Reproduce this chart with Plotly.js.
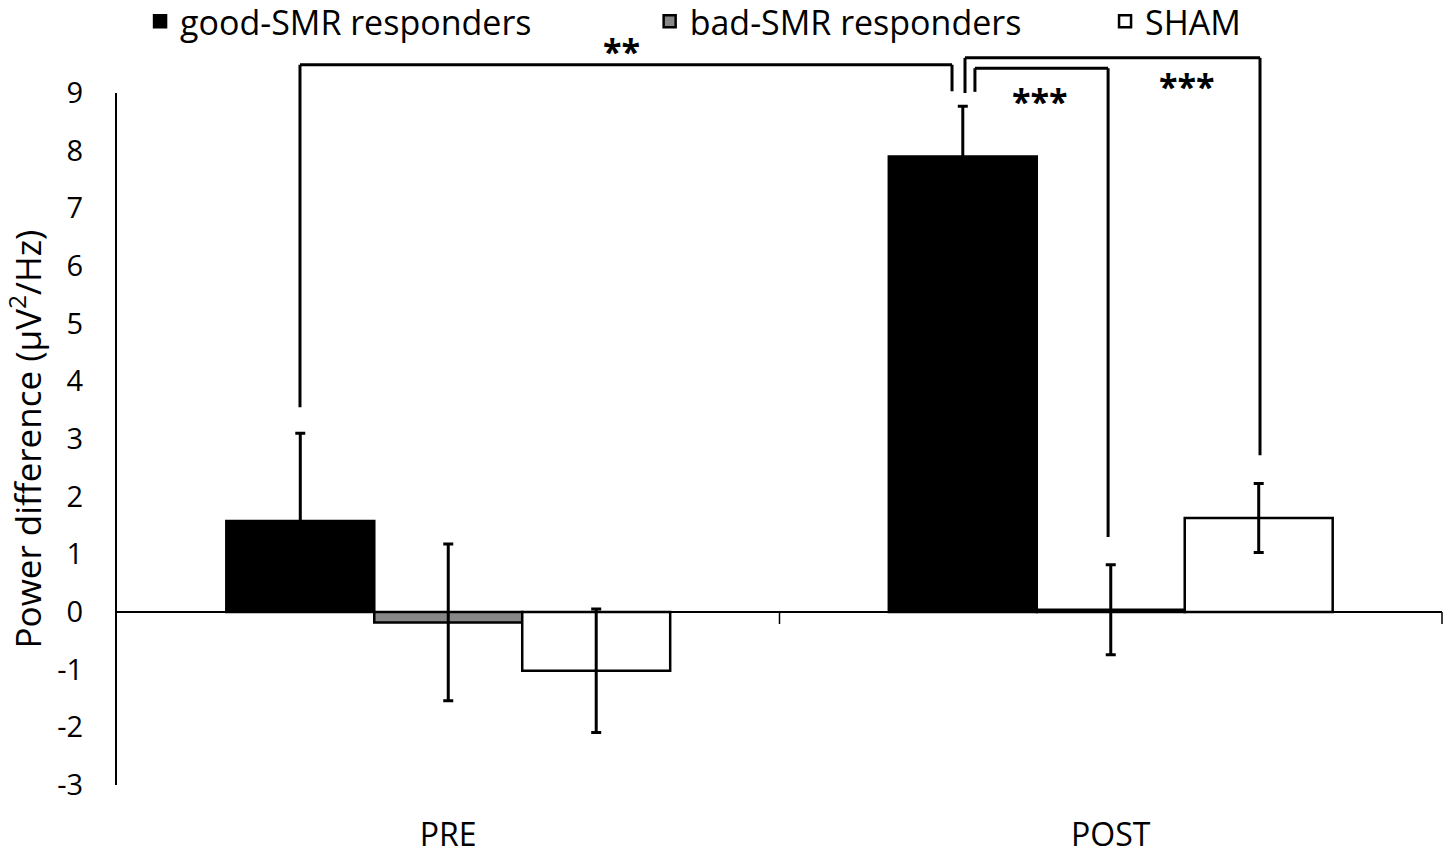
<!DOCTYPE html>
<html>
<head>
<meta charset="utf-8">
<script src="https://cdn.plot.ly/plotly-3.0.1.min.js"></script>
<style>html,body{margin:0;padding:0;background:#fff;}#chart{width:1450px;height:857px;}</style>
</head>
<body>
<div id="chart"></div>
<script>
// ---- data ----
const categories = ['PRE', 'POST'];
const seriesNames = ['good-SMR responders', 'bad-SMR responders', 'SHAM'];
const goodValues = [1.58, 7.90];
const goodErrors = [1.52, 0.87];
const badValues = [-0.18, 0.04];
const badErrors = [1.36, 0.78];
const shamValues = [-1.02, 1.63];
const shamErrors = [1.07, 0.60];
const yTickValues = [-3, -2, -1, 0, 1, 2, 3, 4, 5, 6, 7, 8, 9];
const yTickLabels = ['-3', '-2', '-1', '0', '1', '2', '3', '4', '5', '6', '7', '8', '9'];
const significanceLabels = ['**', '***', '***'];

// ---- layout helpers ----
const Y_RANGE = [-3, 9];
const X_RANGE = [-0.5, 1.5];
const FONT = '"Open Sans", "Noto Sans", sans-serif';
const px = xd => (xd - X_RANGE[0]) / (X_RANGE[1] - X_RANGE[0]);
const py = yd => (yd - Y_RANGE[0]) / (Y_RANGE[1] - Y_RANGE[0]);

function barTrace(name, y, err, color, legendId) {
  return {
    type: 'bar', name: name, x: categories, y: y,
    marker: {color: color, line: {color: '#000', width: 2.5}},
    error_y: {type: 'data', array: err, visible: true, color: '#000', thickness: 3, width: 5},
    legend: legendId
  };
}

const traces = [
  barTrace(seriesNames[0], goodValues, goodErrors, '#000000', 'legend'),
  barTrace(seriesNames[1], badValues, badErrors, '#878787', 'legend2'),
  barTrace(seriesNames[2], shamValues, shamErrors, '#ffffff', 'legend3')
];

// bracket geometry (axis units: category index, y value)
const brackets = [
  {xl: -0.2238, xr: 0.7604, top: 9.49, yl: 3.55, yr: 9.03},
  {xl: 0.780, xr: 1.2253, top: 9.61, yl: 9.00, yr: 2.72},
  {xl: 0.795, xr: 0.996, top: 9.43, yl: 9.02, yr: 1.30}
];
const labelPos = [
  {x: 0.262, y: 9.73},
  {x: 0.893, y: 8.86},
  {x: 1.115, y: 9.12}
];

const lineStyle = {color: '#000', width: 3};
const shapes = [];
brackets.forEach(b => {
  shapes.push({type: 'line', xref: 'paper', yref: 'paper', x0: px(b.xl), x1: px(b.xl), y0: py(b.yl), y1: py(b.top), line: lineStyle});
  shapes.push({type: 'line', xref: 'paper', yref: 'paper', x0: px(b.xl), x1: px(b.xr), y0: py(b.top), y1: py(b.top), line: lineStyle});
  shapes.push({type: 'line', xref: 'paper', yref: 'paper', x0: px(b.xr), x1: px(b.xr), y0: py(b.top), y1: py(b.yr), line: lineStyle});
});
// category boundary ticks on the zero line
[0.5, 1.5].forEach(xb => {
  shapes.push({type: 'line', xref: 'paper', yref: 'paper', x0: px(xb), x1: px(xb), y0: py(0), y1: py(0) - 12 / 692, line: {color: '#000', width: 1.5}});
});

const annotations = significanceLabels.map((t, i) => ({
  text: '<b>' + t + '</b>', xref: 'paper', yref: 'paper', x: px(labelPos[i].x), y: py(labelPos[i].y),
  xanchor: 'center', yanchor: 'middle', showarrow: false,
  font: {family: FONT, size: 34, color: '#000'}
}));

const legendBase = {orientation: 'h', yanchor: 'middle', xanchor: 'left', y: 1.103,
  bgcolor: 'rgba(0,0,0,0)', font: {family: FONT, size: 34, color: '#000'}};

const layout = {
  width: 1450, height: 857,
  margin: {l: 117, r: 8, t: 93, b: 72, autoexpand: false},
  paper_bgcolor: '#fff', plot_bgcolor: '#fff',
  font: {family: FONT, color: '#000'},
  barmode: 'group', bargap: 0.33, bargroupgap: 0,
  xaxis: {
    type: 'category', range: X_RANGE, showline: false, showgrid: false, zeroline: false,
    ticks: 'outside', ticklen: 22, tickcolor: 'rgba(0,0,0,0)',
    tickfont: {family: FONT, size: 32, color: '#000'}
  },
  yaxis: {
    range: Y_RANGE, tickvals: yTickValues, ticktext: yTickLabels, showgrid: false,
    showline: true, linecolor: '#000', linewidth: 2,
    zeroline: true, zerolinecolor: '#000', zerolinewidth: 2,
    ticks: 'outside', ticklen: 26, tickcolor: 'rgba(0,0,0,0)',
    tickfont: {family: FONT, size: 29, color: '#000'},
    title: {text: 'Power difference (μV<sup>2</sup>/Hz)', font: {family: FONT, size: 35, color: '#000'}, standoff: 14}
  },
  legend: Object.assign({}, legendBase, {x: 0.0174}),
  legend2: Object.assign({}, legendBase, {x: 0.402}),
  legend3: Object.assign({}, legendBase, {x: 0.7457}),
  shapes: shapes,
  annotations: annotations,
  showlegend: true
};

Plotly.newPlot('chart', traces, layout, {displayModeBar: false, staticPlot: true});
</script>
</body>
</html>
